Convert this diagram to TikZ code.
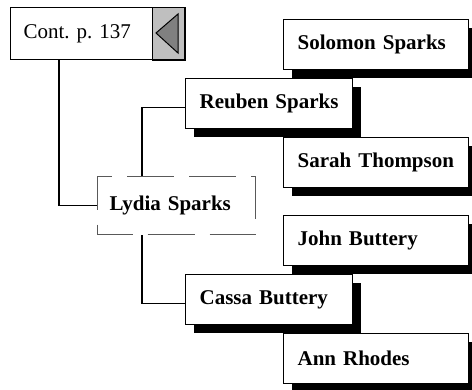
\documentclass[tikz,border=0pt]{standalone}
\usepackage{fontspec}
\setmainfont{Liberation Serif}
\frenchspacing
\usetikzlibrary{shadows}
\tikzset{
  person/.style={draw=black, line width=1.3pt, fill=white, anchor=north west,
    inner xsep=14pt, inner ysep=0pt, align=left, minimum height=50pt,
    font=\fontsize{21}{25}\selectfont\bfseries,
    drop shadow={shadow xshift=8pt, shadow yshift=-8pt, opacity=1, fill=black}},
  wide/.style={person, text width=157pt},
  narrow/.style={person, text width=139pt},
  subject/.style={draw=black!65, line width=1pt, dash pattern=on 47pt off 15pt,
    dash phase=12pt, anchor=north west, inner xsep=12pt, inner ysep=0pt,
    text width=134pt, align=left, minimum height=58pt,
    font=\fontsize{21}{25}\selectfont\bfseries},
  link/.style={draw=black, line width=1.3pt},
}
\begin{document}
\begin{tikzpicture}[x=1pt, y=-1pt]
\useasboundingbox (0,0) rectangle (472,389);
% continuation box
\node[draw=black, line width=1.3pt, fill=white, anchor=north west, inner xsep=13pt,
  inner ysep=0pt, text width=116pt, align=left, minimum height=52pt,
  font=\fontsize{21}{25}\selectfont] (cont) at (10,7) {Cont. p. 137};
\node[fill=black!25, draw=black, line width=1pt, anchor=north west, minimum width=32pt,
  minimum height=52pt, inner sep=0pt] (btn) at (152,7) {};
\draw[line width=2.4pt] (btn.south west) -- (btn.south east) -- (btn.north east);
\draw[fill=black!50, line width=1pt] (156,33) -- (178,14) -- (178,53) -- cycle;
% people
\node[wide]   (solomon) at (283,19)  {Solomon Sparks};
\node[narrow] (reuben)  at (185,78)  {Reuben Sparks};
\node[wide]   (sarah)   at (283,137) {Sarah Thompson};
\node[subject] (lydia)  at (97,176)  {Lydia Sparks};
\node[wide]   (john)    at (283,215) {John Buttery};
\node[narrow] (cassa)   at (185,274) {Cassa Buttery};
\node[wide]   (ann)     at (283,333) {Ann Rhodes};
% connectors
\draw[link] (cont.south west -| 59,0) |- (lydia.west);
\draw[link] (lydia.north -| 142,0) |- ([yshift=-4pt]reuben.west);
\draw[link] (lydia.south -| 142,0) |- ([yshift=-4pt]cassa.west);
\end{tikzpicture}
\end{document}
